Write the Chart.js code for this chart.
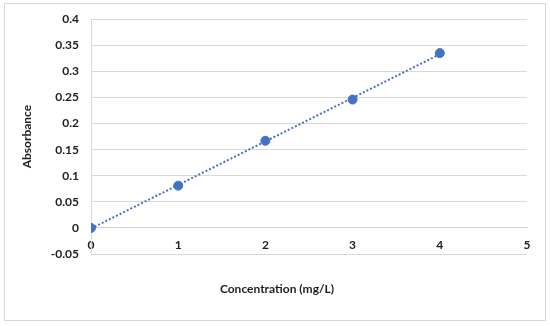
<!DOCTYPE html>
<html>
<head>
<meta charset="utf-8">
<script src="https://cdn.jsdelivr.net/npm/chart.js@4.4.1/dist/chart.umd.min.js"></script>
<style>
    html, body { margin: 0; padding: 0; background: #fff; }
    #wrap { position: relative; width: 550px; height: 326px; }
</style>
</head>
<body>
<div id="wrap"><canvas id="chart"></canvas></div>
<script>
// ===============================
// DATA
// ===============================
const concentration = [0, 1, 2, 3, 4];
const absorbance = [0, 0.081, 0.167, 0.246, 0.335];
const xTicks = [0, 1, 2, 3, 4, 5];
const yTicks = [-0.05, 0, 0.05, 0.1, 0.15, 0.2, 0.25, 0.3, 0.35, 0.4];
const xTitle = "Concentration (mg/L)";
const yTitle = "Absorbance";

const BLUE = "#4472C4";
const GRID = "#d9d9d9";
const TEXT = "#1e1e1e";
const FONT = "Lato, 'Open Sans', sans-serif";

// linear trendline (least squares) from the data
const n = concentration.length;
const mx = concentration.reduce((a, b) => a + b, 0) / n;
const my = absorbance.reduce((a, b) => a + b, 0) / n;
let sxy = 0, sxx = 0;
concentration.forEach((x, i) => {
    sxy += (x - mx) * (absorbance[i] - my);
    sxx += (x - mx) * (x - mx);
});
const slope = sxy / sxx;
const intercept = my - slope * mx;
const xFirst = concentration[0];
const xLast = concentration[n - 1];
const trend = [
    { x: xFirst, y: intercept + slope * xFirst },
    { x: xLast, y: intercept + slope * xLast }
];

// ===============================
// PLUGINS
// ===============================
const frame = {
    id: "frame",
    beforeDraw(chart) {
        const ctx = chart.ctx;
        ctx.save();
        ctx.fillStyle = "#fff";
        ctx.fillRect(0, 0, chart.width, chart.height);
        ctx.strokeStyle = GRID;
        ctx.lineWidth = 1;
        ctx.strokeRect(4.5, 3.5, 541, 317);
        ctx.restore();
    },
    afterDraw(chart) {
        const ctx = chart.ctx;
        ctx.save();
        ctx.fillStyle = TEXT;
        ctx.font = "bold 12px " + FONT;
        ctx.textAlign = "center";
        ctx.textBaseline = "middle";
        ctx.fillText(xTitle, 277, 289);
        ctx.restore();
    }
};

const fmt = v => String(+Number(v).toFixed(2));

new Chart(document.getElementById("chart"), {
    type: "scatter",
    data: {
        datasets: [
            {
                type: "line",
                data: trend,
                borderColor: BLUE,
                borderWidth: 2,
                borderDash: [2, 2],
                pointRadius: 0,
                fill: false,
                order: 2
            },
            {
                data: concentration.map((x, i) => ({ x, y: absorbance[i] })),
                backgroundColor: BLUE,
                borderColor: BLUE,
                pointRadius: 4.5,
                pointHoverRadius: 4.5,
                order: 1
            }
        ]
    },
    options: {
        responsive: true,
        maintainAspectRatio: false,
        animation: false,
        devicePixelRatio: 1,
        layout: { padding: { left: 0, top: 19, right: 23, bottom: 72 } },
        plugins: { legend: { display: false }, tooltip: { enabled: false } },
        scales: {
            x: {
                type: "linear",
                position: { y: 0 },
                min: xTicks[0],
                max: xTicks[xTicks.length - 1],
                afterBuildTicks: s => { s.ticks = xTicks.map(v => ({ value: v })); },
                grid: { color: "rgba(0,0,0,0)", drawTicks: false },
                border: { display: true, color: "#cfcfcf", width: 1 },
                ticks: {
                    padding: 10,
                    maxRotation: 0,
                    color: TEXT,
                    font: { family: FONT, size: 12, weight: "bold" },
                    callback: fmt
                }
            },
            y: {
                type: "linear",
                min: yTicks[0],
                max: yTicks[yTicks.length - 1],
                afterBuildTicks: s => { s.ticks = yTicks.map(v => ({ value: v })); },
                afterFit: s => { s.width = 91; },
                grid: { color: GRID, lineWidth: 1, drawTicks: false },
                border: { display: true, color: GRID, width: 1 },
                ticks: {
                    padding: 12,
                    color: TEXT,
                    font: { family: FONT, size: 12, weight: "bold" },
                    callback: fmt
                },
                title: {
                    display: true,
                    text: yTitle,
                    color: TEXT,
                    font: { family: FONT, size: 12, weight: "bold" },
                    padding: { top: 20, bottom: 0 }
                }
            }
        }
    },
    plugins: [frame]
});
</script>
</body>
</html>
